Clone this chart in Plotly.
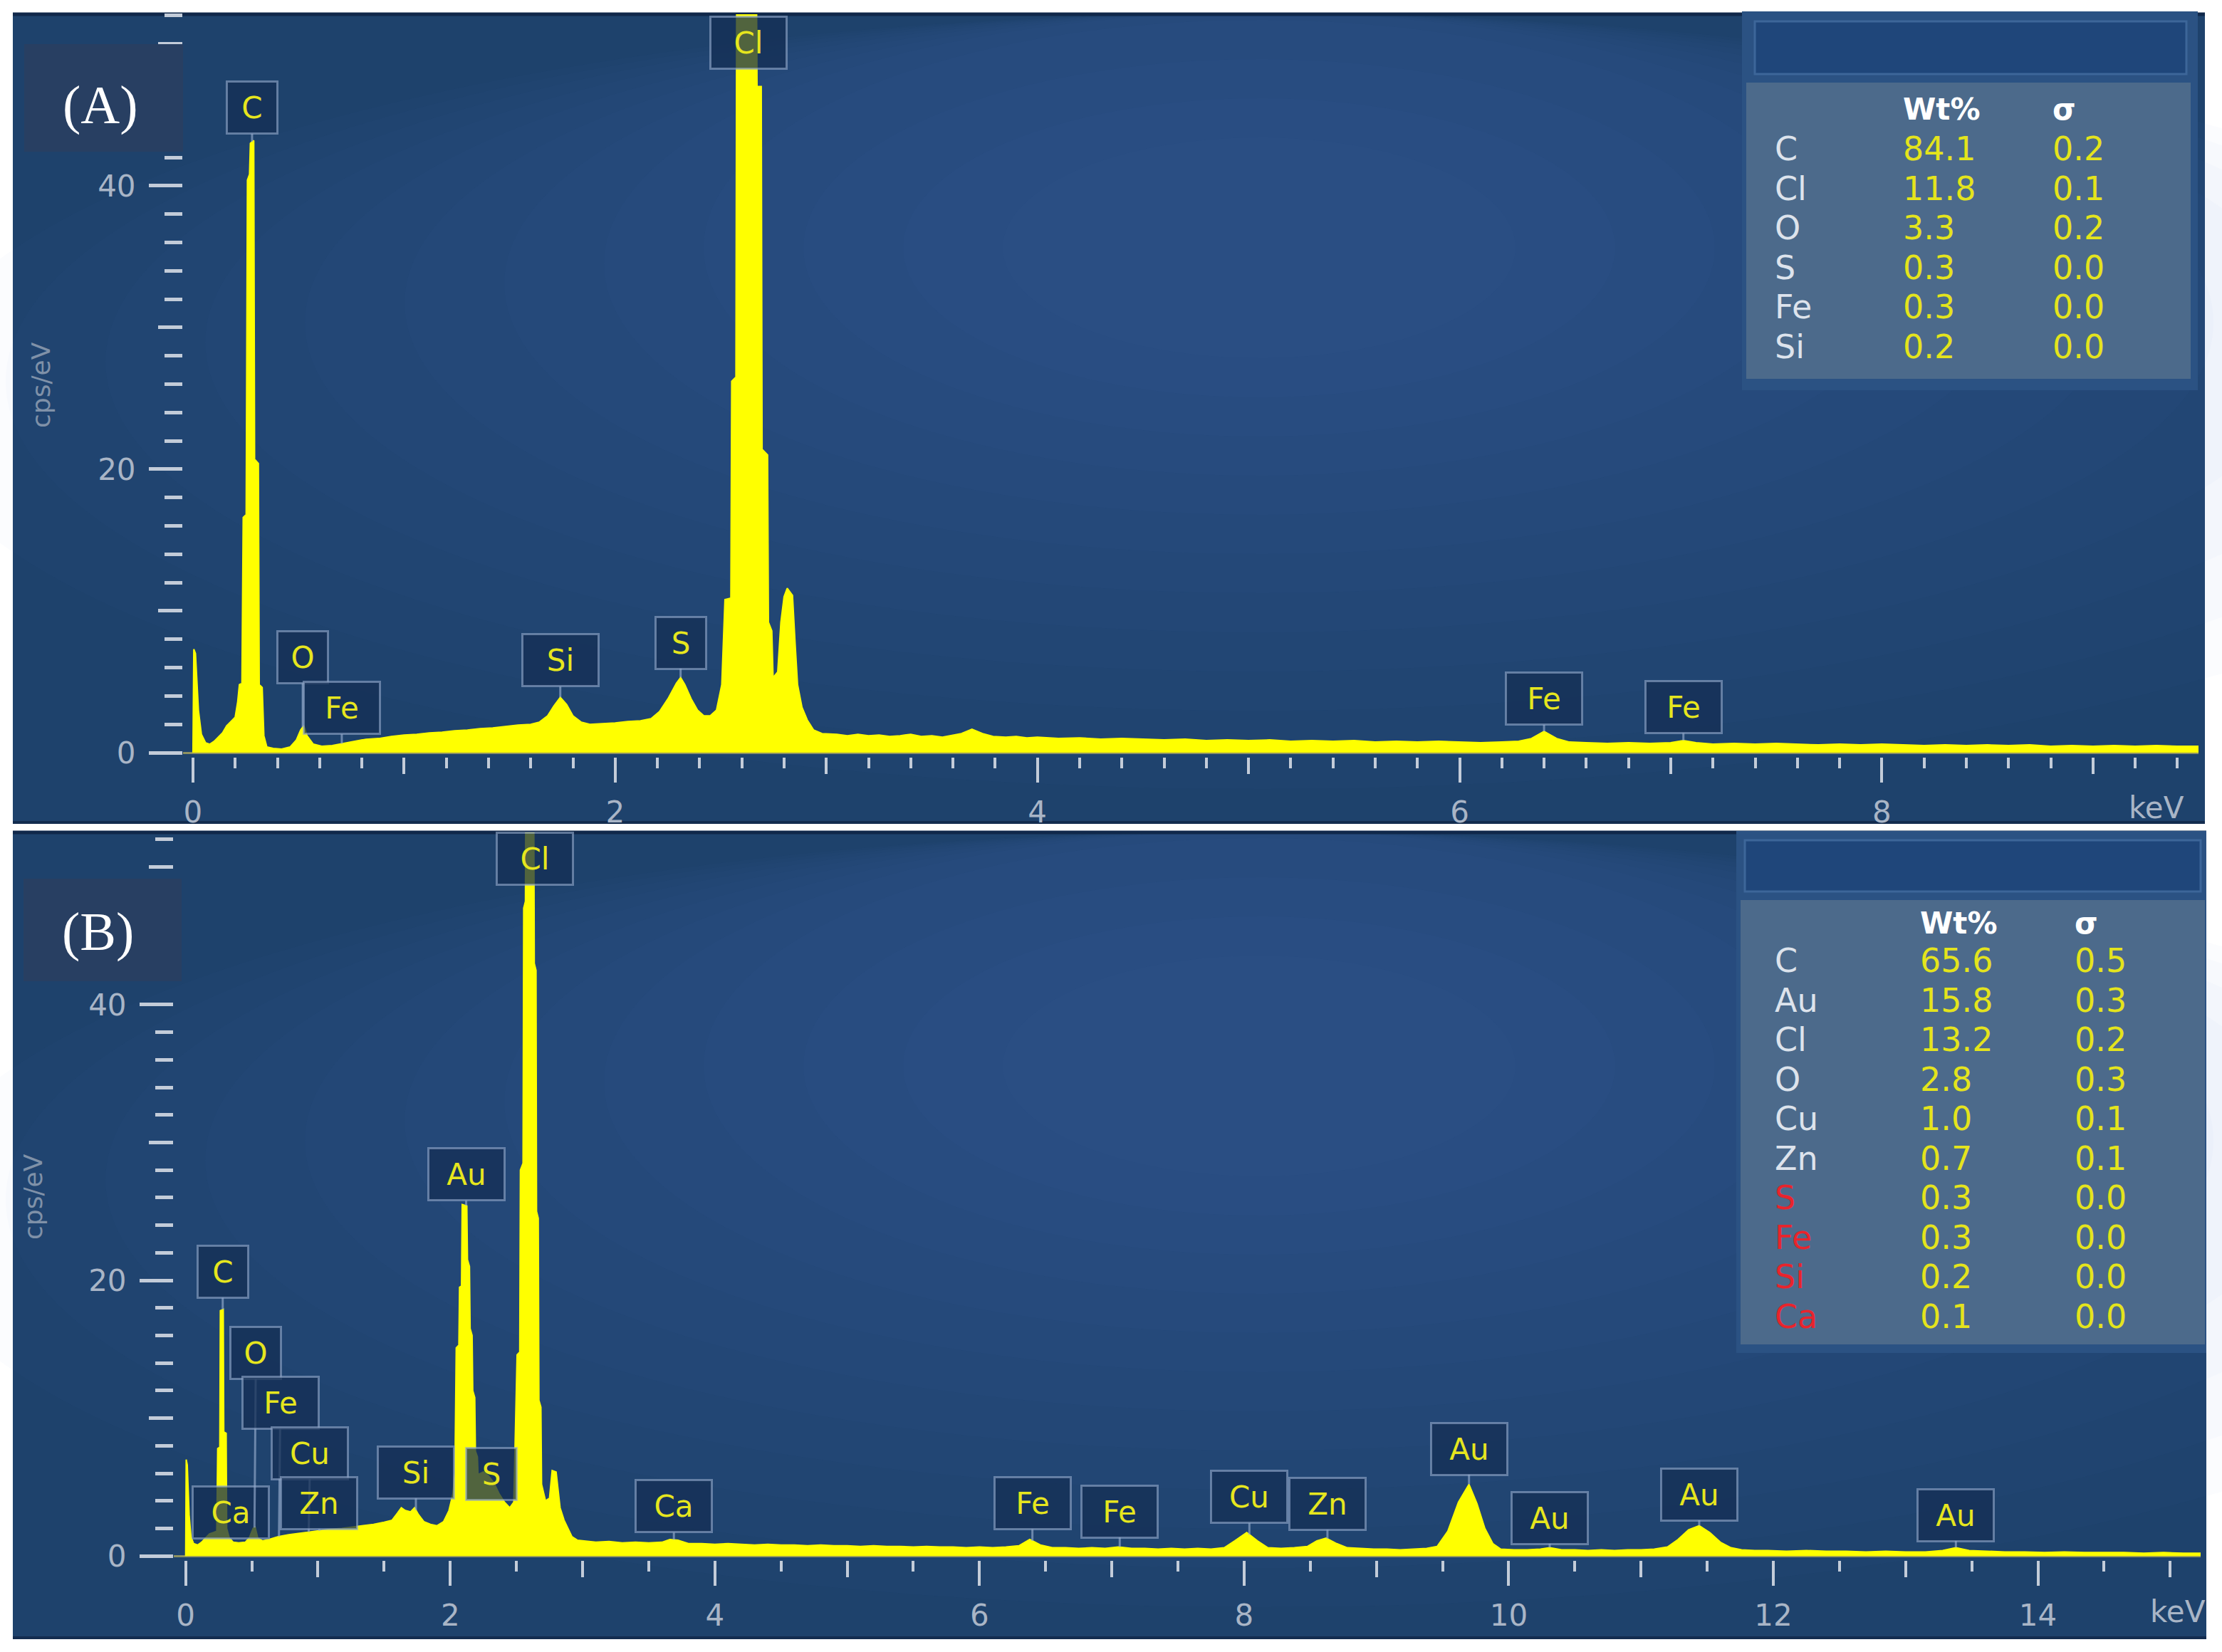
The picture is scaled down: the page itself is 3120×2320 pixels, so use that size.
import numpy as np
import plotly.graph_objects as go

W, H = 3120, 2320

# ---------------- spectrum (A) ----------------
energy_A = [0.000, 0.004, 0.012, 0.018, 0.026, 0.04, 0.06, 0.08, 0.10, 0.12, 0.14, 0.16, 0.18, 0.20,
            0.212, 0.22, 0.232, 0.238, 0.252, 0.258, 0.268, 0.272, 0.288, 0.292, 0.31, 0.314, 0.328,
            0.336, 0.35, 0.38, 0.42, 0.46, 0.49, 0.51, 0.525, 0.54, 0.57, 0.61, 0.66, 0.71, 0.76, 0.82,
            0.88, 0.94, 1.00, 1.06, 1.12, 1.18, 1.24, 1.30, 1.36, 1.42, 1.48, 1.54, 1.60, 1.64, 1.68,
            1.71, 1.74, 1.77, 1.80, 1.84, 1.88, 1.94, 2.00, 2.06, 2.12, 2.17, 2.21, 2.25, 2.29, 2.31,
            2.33, 2.36, 2.39, 2.42, 2.45, 2.48, 2.505, 2.52, 2.548, 2.552, 2.572, 2.576, 2.668, 2.672,
            2.692, 2.696, 2.722, 2.726, 2.742, 2.748, 2.77, 2.785, 2.80, 2.815, 2.84, 2.852, 2.864,
            2.885, 2.91, 2.94, 2.98,
            3.05, 3.10, 3.15, 3.20, 3.25, 3.30, 3.35, 3.40, 3.45, 3.50, 3.55, 3.60, 3.64, 3.69, 3.74,
            3.79, 3.85, 3.90, 3.95, 4.00, 4.10, 4.20, 4.30, 4.40, 4.50, 4.60, 4.70, 4.80, 4.90, 5.00,
            5.10, 5.20, 5.30, 5.40, 5.50, 5.60, 5.70, 5.80, 5.90, 6.00, 6.10, 6.20, 6.28, 6.34, 6.40,
            6.46, 6.52, 6.60, 6.70, 6.80, 6.90, 7.00, 7.06, 7.12, 7.20, 7.30, 7.40, 7.50, 7.60, 7.70,
            7.80, 7.90, 8.00, 8.10, 8.20, 8.30, 8.40, 8.50, 8.60, 8.70, 8.80, 8.90, 9.00, 9.10, 9.20,
            9.30, 9.40, 9.55]
cps_A = [0.0, 7.3, 7.0, 5.2, 3.0, 1.3, 0.7, 0.6, 0.8, 1.1, 1.4, 1.9, 2.2, 2.5,
         3.6, 4.8, 4.9, 16.6, 16.8, 40.4, 40.8, 43.0, 43.2, 20.7, 20.4, 4.8, 4.6,
         1.2, 0.4, 0.3, 0.25, 0.4, 0.9, 1.6, 1.9, 1.2, 0.6, 0.45, 0.5, 0.65, 0.8, 0.95,
         1.0, 1.15, 1.25, 1.3, 1.4, 1.45, 1.55, 1.6, 1.7, 1.75, 1.85, 1.95, 2.0, 2.15, 2.6,
         3.3, 3.9, 3.4, 2.6, 2.15, 2.0, 2.05, 2.1, 2.2, 2.25, 2.4, 2.9, 3.8, 4.9, 5.3,
         4.8, 3.8, 3.0, 2.6, 2.6, 3.0, 4.8, 10.8, 10.9, 26.2, 26.5, 58.0, 58.0, 47.0,
         47.0, 21.4, 21.0, 9.2, 8.6, 5.3, 5.7, 9.2, 11.0, 11.6, 11.1, 7.8, 4.8,
         3.2, 2.3, 1.6, 1.35,
         1.3, 1.2, 1.3, 1.2, 1.25, 1.15, 1.2, 1.3, 1.15, 1.2, 1.1, 1.25, 1.35, 1.65, 1.35,
         1.15, 1.1, 1.15, 1.05, 1.1, 1.0, 1.05, 0.95, 1.0, 0.95, 0.9, 0.95, 0.85, 0.9, 0.85,
         0.9, 0.8, 0.85, 0.8, 0.85, 0.75, 0.8, 0.75, 0.8, 0.75, 0.7, 0.75, 0.8, 1.0, 1.5,
         1.0, 0.75, 0.7, 0.65, 0.7, 0.65, 0.7, 0.85, 0.7, 0.6, 0.65, 0.6, 0.65, 0.6, 0.55,
         0.6, 0.55, 0.6, 0.55, 0.5, 0.55, 0.5, 0.55, 0.5, 0.55, 0.45, 0.5, 0.45, 0.5, 0.45,
         0.5, 0.45, 0.45]

# ---------------- spectrum (B) ----------------
energy_B = [0.000, 0.004, 0.012, 0.018, 0.026, 0.04, 0.06, 0.09, 0.12, 0.15, 0.18, 0.21, 0.235,
            0.242, 0.258, 0.262, 0.284, 0.288, 0.306, 0.31, 0.33, 0.36, 0.40, 0.45, 0.48, 0.51,
            0.525, 0.545, 0.58, 0.63, 0.70, 0.78, 0.86, 0.94, 1.02, 1.10, 1.18, 1.26, 1.34, 1.42,
            1.50, 1.56, 1.60, 1.63, 1.66, 1.70, 1.73, 1.76, 1.80, 1.85, 1.90, 1.95, 1.99, 2.02,
            2.035, 2.045, 2.065, 2.07, 2.085, 2.09, 2.125, 2.13, 2.145, 2.15, 2.165, 2.17, 2.185,
            2.19, 2.205, 2.21, 2.25, 2.29, 2.33, 2.37, 2.41, 2.45, 2.48, 2.505, 2.525, 2.53, 2.55,
            2.555, 2.568, 2.572, 2.63, 2.635, 2.648, 2.652, 2.665, 2.67, 2.685, 2.69, 2.72, 2.75,
            2.77, 2.80, 2.815, 2.83, 2.86, 2.89, 2.92, 2.96,
            3.00, 3.10, 3.20, 3.30, 3.40, 3.50, 3.60, 3.66, 3.72, 3.80, 3.90, 4.00, 4.10, 4.20,
            4.30, 4.40, 4.50, 4.60, 4.70, 4.80, 4.90, 5.00, 5.10, 5.20, 5.30, 5.40, 5.50, 5.60,
            5.70, 5.80, 5.90, 6.00, 6.10, 6.20, 6.30, 6.38, 6.46, 6.55, 6.65, 6.75, 6.85, 6.95,
            7.05, 7.15, 7.25, 7.35, 7.45, 7.55, 7.65, 7.75, 7.85, 7.93, 8.02, 8.10, 8.18, 8.28,
            8.38, 8.48, 8.55, 8.62, 8.70, 8.78, 8.88, 8.98, 9.08, 9.18, 9.28, 9.38, 9.46, 9.54,
            9.62, 9.70, 9.76, 9.82, 9.88, 9.94, 10.04, 10.14, 10.24, 10.31, 10.40, 10.50, 10.60,
            10.70, 10.80, 10.90, 11.00, 11.10, 11.20, 11.28, 11.36, 11.44, 11.52, 11.60, 11.68,
            11.76, 11.86, 11.96, 12.10, 12.25, 12.40, 12.55, 12.70, 12.85, 13.00, 13.15, 13.28,
            13.38, 13.48, 13.60, 13.75, 13.90, 14.05, 14.20, 14.35, 14.50, 14.65, 14.80, 14.95,
            15.10, 15.25]
cps_B = [0.0, 7.0, 6.6, 4.5, 3.0, 1.4, 0.9, 0.8, 1.0, 1.3, 1.6, 1.7, 1.8,
         7.8, 7.9, 17.8, 17.9, 9.0, 8.9, 2.0, 1.3, 1.0, 0.95, 1.0, 1.3, 2.0,
         2.1, 1.3, 1.1, 1.2, 1.4, 1.55, 1.65, 1.75, 1.85, 1.95, 2.0, 2.1, 2.2, 2.3,
         2.45, 2.6, 3.1, 3.5, 3.3, 3.2, 3.5, 3.0, 2.5, 2.3, 2.2, 2.5, 3.3, 4.5,
         6.0, 15.1, 15.3, 19.5, 19.6, 25.5, 25.4, 21.5, 21.0, 16.5, 16.0, 12.0, 11.5,
         7.6, 7.2, 5.9, 6.1, 5.8, 5.3, 4.5, 3.9, 3.5, 3.9, 14.6, 14.8, 28.0, 28.5,
         47.0, 47.5, 58.0, 58.0, 43.0, 42.5, 25.0, 24.5, 11.3, 10.8, 5.2, 4.0, 4.2,
         6.2, 6.1, 4.8, 3.5, 2.6, 2.0, 1.4, 1.15,
         1.1, 1.0, 1.05, 0.95, 1.0, 0.95, 1.0, 1.2, 1.15, 0.9, 0.9, 0.85, 0.9, 0.85,
         0.8, 0.85, 0.8, 0.8, 0.75, 0.8, 0.75, 0.75, 0.7, 0.75, 0.7, 0.7, 0.65, 0.7,
         0.65, 0.65, 0.6, 0.65, 0.6, 0.65, 0.75, 1.2, 0.8, 0.6, 0.6, 0.55, 0.6, 0.55,
         0.65, 0.55, 0.55, 0.5, 0.55, 0.5, 0.55, 0.5, 0.6, 1.1, 1.7, 1.1, 0.6, 0.55,
         0.6, 0.7, 1.1, 1.3, 0.9, 0.6, 0.55, 0.5, 0.5, 0.45, 0.5, 0.55, 0.7, 1.8,
         3.9, 5.2, 3.8, 2.0, 0.9, 0.5, 0.45, 0.45, 0.5, 0.6, 0.45, 0.45, 0.4,
         0.45, 0.4, 0.45, 0.45, 0.5, 0.65, 1.2, 1.9, 2.2, 1.7, 1.0, 0.6,
         0.45, 0.4, 0.4, 0.35, 0.4, 0.35, 0.35, 0.3, 0.35, 0.3, 0.3, 0.4,
         0.6, 0.4, 0.35, 0.3, 0.3, 0.25, 0.3, 0.25, 0.25, 0.25, 0.2, 0.25,
         0.2, 0.2]

# ---------------- peak labels ----------------
labels_A_elem = ["C", "O", "Fe", "Si", "S", "Cl", "Fe", "Fe"]
labels_A_keV = [0.28, 0.52, 0.705, 1.74, 2.31, 2.63, 6.40, 7.06]
labels_B_elem = ["C", "Ca", "O", "Fe", "Cu", "Zn", "Si", "S", "Au", "Cl", "Ca", "Fe", "Fe",
                 "Cu", "Zn", "Au", "Au", "Au", "Au"]
labels_B_keV = [0.28, 0.34, 0.52, 0.705, 0.93, 1.01, 1.74, 2.31, 2.12, 2.64, 3.69, 6.40, 7.06,
                8.04, 8.63, 9.70, 10.31, 11.44, 13.38]

# ---------------- quantification tables ----------------
table_A_elem = ["C", "Cl", "O", "S", "Fe", "Si"]
table_A_wt = ["84.1", "11.8", "3.3", "0.3", "0.3", "0.2"]
table_A_sigma = ["0.2", "0.1", "0.2", "0.0", "0.0", "0.0"]
table_B_elem = ["C", "Au", "Cl", "O", "Cu", "Zn", "S", "Fe", "Si", "Ca"]
table_B_wt = ["65.6", "15.8", "13.2", "2.8", "1.0", "0.7", "0.3", "0.3", "0.2", "0.1"]
table_B_sigma = ["0.5", "0.3", "0.2", "0.3", "0.1", "0.1", "0.0", "0.0", "0.0", "0.0"]
table_B_flag = [False, False, False, False, False, False, True, True, True, True]

# ---------------- layout helpers ----------------
def fx(p):
    return p / W


def fy(p):
    return 1 - p / H


TICK_C = "#c3ccd9"
LAB_C = "#a9b5c6"
FONT = "DejaVu Sans"
ARROW_C = "rgba(150,172,205,0.65)"

A_xrange = [-0.047, 9.5]
A_yrange = [-0.3, 52.1]
A_xdom = [fx(257), fx(3087)]
A_ydom = [fy(1063), fy(20)]

B_xrange = [-0.09, 15.23]
B_yrange = [-0.3, 52.5]
B_xdom = [fx(244), fx(3090)]
B_ydom = [fy(2191), fy(1169)]

fig = go.Figure()

fig.add_trace(go.Scatter(x=energy_A, y=cps_A, mode="lines", fill="tozeroy",
                         fillcolor="#ffff00", line=dict(color="#ffff00", width=2),
                         xaxis="x", yaxis="y", showlegend=False, hoverinfo="skip"))
fig.add_trace(go.Scatter(x=energy_B, y=cps_B, mode="lines", fill="tozeroy",
                         fillcolor="#ffff00", line=dict(color="#ffff00", width=2),
                         xaxis="x3", yaxis="y3", showlegend=False, hoverinfo="skip"))
for xa, ya in [("x2", "y"), ("x", "y2"), ("x4", "y3"), ("x3", "y4")]:
    fig.add_trace(go.Scatter(x=[None], y=[None], xaxis=xa, yaxis=ya, showlegend=False,
                             hoverinfo="skip"))

tickfont = dict(family=FONT, size=42, color=LAB_C)


def xmain(dom, rng, anchor, minor_dt):
    return dict(domain=dom, range=rng, anchor=anchor, tickmode="linear", tick0=0, dtick=2,
                ticks="outside", ticklen=35, tickwidth=4, tickcolor=TICK_C, tickfont=tickfont,
                ticklabelstandoff=6, showgrid=False, zeroline=False, showline=False,
                fixedrange=True, automargin=False,
                minor=dict(ticks="outside", ticklen=15, tickwidth=4, tickcolor=TICK_C,
                           tickmode="linear", tick0=0, dtick=minor_dt, showgrid=False))


def xmid(rng, over, anchor):
    return dict(range=rng, overlaying=over, anchor=anchor, side="bottom", tickmode="linear",
                tick0=1, dtick=2, ticks="outside", ticklen=23, tickwidth=4, tickcolor=TICK_C,
                showticklabels=False, showgrid=False, zeroline=False, showline=False,
                automargin=False, fixedrange=True)


def ymain(dom, rng, anchor):
    return dict(domain=dom, range=rng, anchor=anchor, tickmode="linear", tick0=0, dtick=20,
                ticks="outside", ticklen=47, tickwidth=5, tickcolor=TICK_C, tickfont=tickfont,
                ticklabelstandoff=10, showgrid=False, zeroline=True, zerolinecolor="#8d9160",
                zerolinewidth=3, showline=False, fixedrange=True, automargin=False,
                minor=dict(ticks="outside", ticklen=25, tickwidth=5, tickcolor=TICK_C,
                           tickmode="linear", tick0=0, dtick=2, showgrid=False))


def ymid(rng, over, anchor):
    return dict(range=rng, overlaying=over, anchor=anchor, side="left", tickmode="linear",
                tick0=10, dtick=20, ticks="outside", ticklen=34, tickwidth=5, tickcolor=TICK_C,
                showticklabels=False, showgrid=False, zeroline=False, showline=False,
                automargin=False, fixedrange=True)


shapes = []
for (x0, y0, x1, y1) in [(18, 18, 3096, 1157), (18, 1167, 3098, 2302)]:
    shapes.append(dict(type="rect", xref="paper", yref="paper", x0=fx(x0), x1=fx(x1),
                       y0=fy(y1), y1=fy(y0), fillcolor="#1e426c", line=dict(width=0),
                       layer="below"))
    cx, cy = x0 + 1750, y0 + 330
    for k in range(12):
        rx = 1900 - k * 140
        ry = 760 - k * 55
        shapes.append(dict(type="circle", xref="paper", yref="paper", x0=fx(cx - rx),
                           x1=fx(cx + rx), y0=fy(min(cy + ry, y1)), y1=fy(max(cy - ry, y0)),
                           fillcolor="rgba(95,145,195,0.022)", line=dict(width=0),
                           layer="below"))
    shapes.append(dict(type="line", xref="paper", yref="paper", x0=fx(x0), x1=fx(x1),
                       y0=fy(y0 + 2), y1=fy(y0 + 2), line=dict(color="#10284a", width=5),
                       layer="below"))
    shapes.append(dict(type="line", xref="paper", yref="paper", x0=fx(x0), x1=fx(x1),
                       y0=fy(y1 - 2), y1=fy(y1 - 2), line=dict(color="#132c4f", width=4),
                       layer="below"))

for (x0, y0, x1, y1) in [(34, 62, 257, 213), (33, 1234, 255, 1378)]:
    shapes.append(dict(type="rect", xref="paper", yref="paper", x0=fx(x0), x1=fx(x1),
                       y0=fy(y1), y1=fy(y0), fillcolor="#283f62", line=dict(width=0),
                       layer="above"))

table_geo = [
    dict(outer=(2446, 16, 3086, 548), head=(2464, 30, 3070, 104), body=(2452, 116, 3076, 532)),
    dict(outer=(2438, 1167, 3098, 1900), head=(2450, 1180, 3090, 1252),
         body=(2444, 1264, 3096, 1888)),
]
for g in table_geo:
    x0, y0, x1, y1 = g["outer"]
    shapes.append(dict(type="rect", xref="paper", yref="paper", x0=fx(x0), x1=fx(x1),
                       y0=fy(y1), y1=fy(y0), fillcolor="#2b5283", line=dict(width=0),
                       layer="above"))
    x0, y0, x1, y1 = g["head"]
    shapes.append(dict(type="rect", xref="paper", yref="paper", x0=fx(x0), x1=fx(x1),
                       y0=fy(y1), y1=fy(y0), fillcolor="#1f467a",
                       line=dict(color="#3d6699", width=3), layer="above"))
    x0, y0, x1, y1 = g["body"]
    shapes.append(dict(type="rect", xref="paper", yref="paper", x0=fx(x0), x1=fx(x1),
                       y0=fy(y1), y1=fy(y0), fillcolor="#4c6a8b", line=dict(width=0),
                       layer="above"))

ann = []


def peak_labels(elems, kevs, energy, cps, offsets, xref, yref, ymax, top_y):
    for el, e, off in zip(elems, kevs, offsets):
        common = dict(text=el, font=dict(family=FONT, size=42, color="#e6e61e"),
                      bgcolor="rgba(20,46,84,0.74)", bordercolor="rgba(150,172,205,0.6)",
                      borderwidth=3, borderpad=8, width=52 if len(el) == 1 else 88, height=54,
                      align="center", valign="middle")
        if off is None:
            ann.append(dict(x=e, y=top_y, xref=xref, yref="paper", showarrow=False,
                            xanchor="center", yanchor="middle", **common))
        else:
            tip = min(float(np.interp(e, energy, cps)), ymax)
            ann.append(dict(x=e, y=tip, xref=xref, yref=yref, showarrow=True, arrowhead=0,
                            arrowwidth=3, arrowcolor=ARROW_C, ax=off[0], ay=off[1],
                            standoff=0, **common))


offs_A = [(0, -48), (0, -98), (0, -50), (0, -52), (0, -49), None, (0, -46), (0, -47)]
offs_B = [(0, -53), (0, -38), (2, -245), (2, -188), (2, -111), (0, -39), (0, -53), (0, -8),
          (0, -44), None, (0, -47), (0, -53), (0, -50), (0, -53), (0, -49), (0, -50),
          (0, -42), (0, -44), (0, -46)]
peak_labels(labels_A_elem, labels_A_keV, energy_A, cps_A, offs_A, "x", "y", A_yrange[1],
            fy(60))
peak_labels(labels_B_elem, labels_B_keV, energy_B, cps_B, offs_B, "x3", "y3", B_yrange[1],
            fy(1206))

for txt, px, py in [("(A)", 141, 148), ("(B)", 137, 1308)]:
    ann.append(dict(text=txt, x=fx(px), y=fy(py), xref="paper", yref="paper",
                    showarrow=False, xanchor="center", yanchor="middle",
                    font=dict(family="Liberation Serif", size=76, color="white")))

for px, py in [(58, 541), (46, 1681)]:
    ann.append(dict(text="cps/eV", x=fx(px), y=fy(py), xref="paper", yref="paper",
                    showarrow=False, textangle=-90, xanchor="center", yanchor="middle",
                    font=dict(family=FONT, size=36, color="#7f91a8")))
for px, py in [(3028, 1134), (3058, 2263)]:
    ann.append(dict(text="keV", x=fx(px), y=fy(py), xref="paper", yref="paper",
                    showarrow=False, xanchor="center", yanchor="middle", font=tickfont))

tables = [
    dict(elem=table_A_elem, wt=table_A_wt, sig=table_A_sigma, flag=[False] * 6,
         head_y=153, row0=209, step=55.6, xe=2490, xw=2670, xs=2880),
    dict(elem=table_B_elem, wt=table_B_wt, sig=table_B_sigma, flag=table_B_flag,
         head_y=1296, row0=1349, step=55.5, xe=2490, xw=2694, xs=2911),
]
for t in tables:
    ann.append(dict(text="<b>Wt%</b>", x=fx(t["xw"]), y=fy(t["head_y"]), xref="paper",
                    yref="paper", showarrow=False, xanchor="left", yanchor="middle",
                    font=dict(family=FONT, size=42, color="white")))
    ann.append(dict(text="<b>σ</b>", x=fx(t["xs"]), y=fy(t["head_y"]), xref="paper",
                    yref="paper", showarrow=False, xanchor="left", yanchor="middle",
                    font=dict(family=FONT, size=42, color="white")))
    for i, (el, w, s, fl) in enumerate(zip(t["elem"], t["wt"], t["sig"], t["flag"])):
        yy = fy(t["row0"] + i * t["step"])
        ann.append(dict(text=el, x=fx(t["xe"]), y=yy, xref="paper", yref="paper",
                        showarrow=False, xanchor="left", yanchor="middle",
                        font=dict(family=FONT, size=46,
                                  color="#e8242c" if fl else "#dde3ec")))
        ann.append(dict(text=w, x=fx(t["xw"]), y=yy, xref="paper", yref="paper",
                        showarrow=False, xanchor="left", yanchor="middle",
                        font=dict(family=FONT, size=46, color="#e4e41c")))
        ann.append(dict(text=s, x=fx(t["xs"]), y=yy, xref="paper", yref="paper",
                        showarrow=False, xanchor="left", yanchor="middle",
                        font=dict(family=FONT, size=46, color="#e4e41c")))

fig.update_layout(
    width=W, height=H, autosize=False,
    margin=dict(l=0, r=0, t=0, b=0, pad=0, autoexpand=False),
    paper_bgcolor="white", plot_bgcolor="rgba(0,0,0,0)",
    showlegend=False,
    xaxis=xmain(A_xdom, A_xrange, "y", 0.2),
    xaxis2=xmid(A_xrange, "x", "y"),
    yaxis=ymain(A_ydom, A_yrange, "x"),
    yaxis2=ymid(A_yrange, "y", "x"),
    xaxis3=xmain(B_xdom, B_xrange, "y3", 0.5),
    xaxis4=xmid(B_xrange, "x3", "y3"),
    yaxis3=ymain(B_ydom, B_yrange, "x3"),
    yaxis4=ymid(B_yrange, "y3", "x3"),
    shapes=shapes,
    annotations=ann,
)

fig.write_html("out.html", config={"displayModeBar": False},
               post_script="document.body.style.margin='0';document.body.style.overflow='hidden';")
